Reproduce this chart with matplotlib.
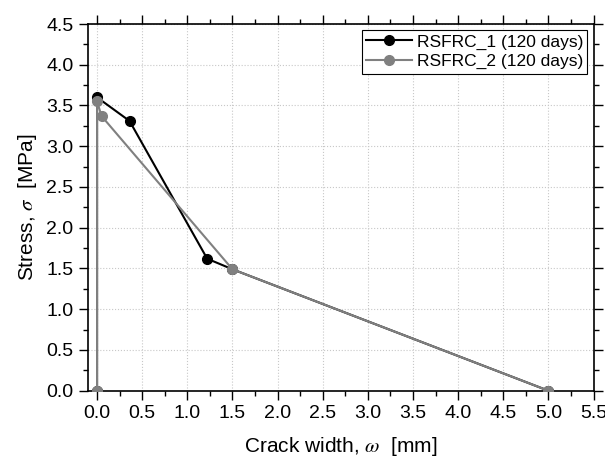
import matplotlib
matplotlib.use("Agg")
import matplotlib.pyplot as plt
from matplotlib.ticker import MultipleLocator

# crack width (mm) and stress (MPa)
w1 = [0.0, 0.0, 0.36, 1.22, 1.50, 5.00]
s1 = [0.0, 3.60, 3.31, 1.62, 1.49, 0.0]
w2 = [0.0, 0.0, 0.05, 1.50, 5.00]
s2 = [0.0, 3.55, 3.37, 1.49, 0.0]
labels = ["RSFRC_1 (120 days)", "RSFRC_2 (120 days)"]

plt.rcParams['font.family'] = ['Liberation Sans', 'DejaVu Sans']
plt.rcParams['mathtext.fontset'] = 'stix'

fig = plt.figure(figsize=(6.05, 4.59), dpi=100)
ax = fig.add_axes([0.1455, 0.1488, 0.8355, 0.7989])

ax.plot(w1, s1, color="black", lw=1.5, marker="o", ms=7, label=labels[0], zorder=3)
ax.plot(w2, s2, color="#808080", lw=1.5, marker="o", ms=7, label=labels[1], zorder=4)

ax.set_xlim(-0.1, 5.5)
ax.set_ylim(0, 4.5)
ax.xaxis.set_major_locator(MultipleLocator(0.5))
ax.xaxis.set_minor_locator(MultipleLocator(0.25))
ax.yaxis.set_major_locator(MultipleLocator(0.5))
ax.yaxis.set_minor_locator(MultipleLocator(0.25))
ax.xaxis.set_major_formatter(plt.FuncFormatter(lambda v, p: f"{v:.1f}"))
ax.yaxis.set_major_formatter(plt.FuncFormatter(lambda v, p: f"{v:.1f}"))

ax.tick_params(which="both", direction="out", top=True, right=True,
               labeltop=False, labelright=False, width=1, labelsize=14)
ax.tick_params(which="major", length=6.5, pad=4)
ax.tick_params(which="minor", length=3.5)
for sp in ax.spines.values():
    sp.set_linewidth(1.2)

ax.grid(True, which="major", color="#c8c8c8", linestyle=":", linewidth=0.8)
ax.set_axisbelow(True)

ax.set_xlabel(r"Crack width, $\omega$  [mm]", fontsize=15, labelpad=9)
ax.set_ylabel(r"Stress, $\sigma$  [MPa]", fontsize=15, labelpad=5)

leg = ax.legend(loc="upper right", frameon=True, fancybox=False,
                prop={'family': ['Liberation Sans Narrow', 'Liberation Sans'], 'size': 12.5},
                edgecolor="black", framealpha=1, handlelength=2.6, handletextpad=0.3,
                borderaxespad=0.35, borderpad=0.25, labelspacing=0.25)
leg.get_frame().set_linewidth(0.8)

fig.savefig("out.png", dpi=100)
